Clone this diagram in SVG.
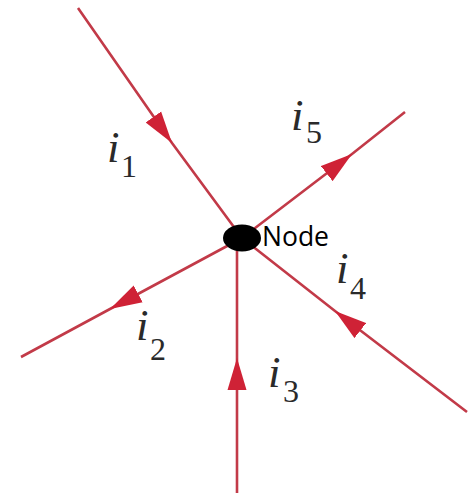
<svg xmlns="http://www.w3.org/2000/svg" width="468" height="495" viewBox="0 0 468 495">
<style>
.wire{fill:none;stroke:#c23a48;stroke-width:2.6;marker-mid:url(#ah)}
.lbl{font-family:"Liberation Serif",serif;fill:#2a2a2a}
.i{font-style:italic;font-size:45px}
.sub{font-size:32px}
.node-label{font-family:"Open Sans","Noto Sans",sans-serif;font-size:26.5px;fill:#000}
</style>
<defs>
<marker id="ah" markerUnits="userSpaceOnUse" viewBox="-32 -10 32 20" refX="0" refY="0" markerWidth="32" markerHeight="20" orient="auto">
<path d="M0,0 L-32,-9.5 L-32,9.5 Z" fill="#cf2236"/>
</marker>
</defs>
<rect width="468" height="495" fill="#fff"/>
<g id="connectors">
<polyline id="w1" class="wire" points="78,8 172,143 242,238"/>
<polyline id="w5" class="wire" points="242,238 352,154 405,112"/>
<polyline id="w2" class="wire" points="242,238 110,309 21,357"/>
<polyline id="w3" class="wire" points="237,493 237,358 237,245"/>
<polyline id="w4" class="wire" points="467,412 335,311 242,238"/>
</g>
<g id="node">
<ellipse cx="242" cy="238" rx="19" ry="13.5" fill="#000"/>
<text class="node-label" x="262" y="246">Node</text>
</g>
<g id="label-i1"><text class="lbl" x="107" y="162"><tspan class="i">i</tspan></text><text class="lbl sub" x="121" y="177">1</text></g>
<g id="label-i5"><text class="lbl" x="291" y="130"><tspan class="i">i</tspan></text><text class="lbl sub" x="306" y="143">5</text></g>
<g id="label-i4"><text class="lbl" x="336" y="283"><tspan class="i">i</tspan></text><text class="lbl sub" x="350" y="299">4</text></g>
<g id="label-i3"><text class="lbl" x="268" y="387"><tspan class="i">i</tspan></text><text class="lbl sub" x="283" y="402">3</text></g>
<g id="label-i2"><text class="lbl" x="136" y="340"><tspan class="i">i</tspan></text><text class="lbl sub" x="150" y="360">2</text></g>
</svg>
